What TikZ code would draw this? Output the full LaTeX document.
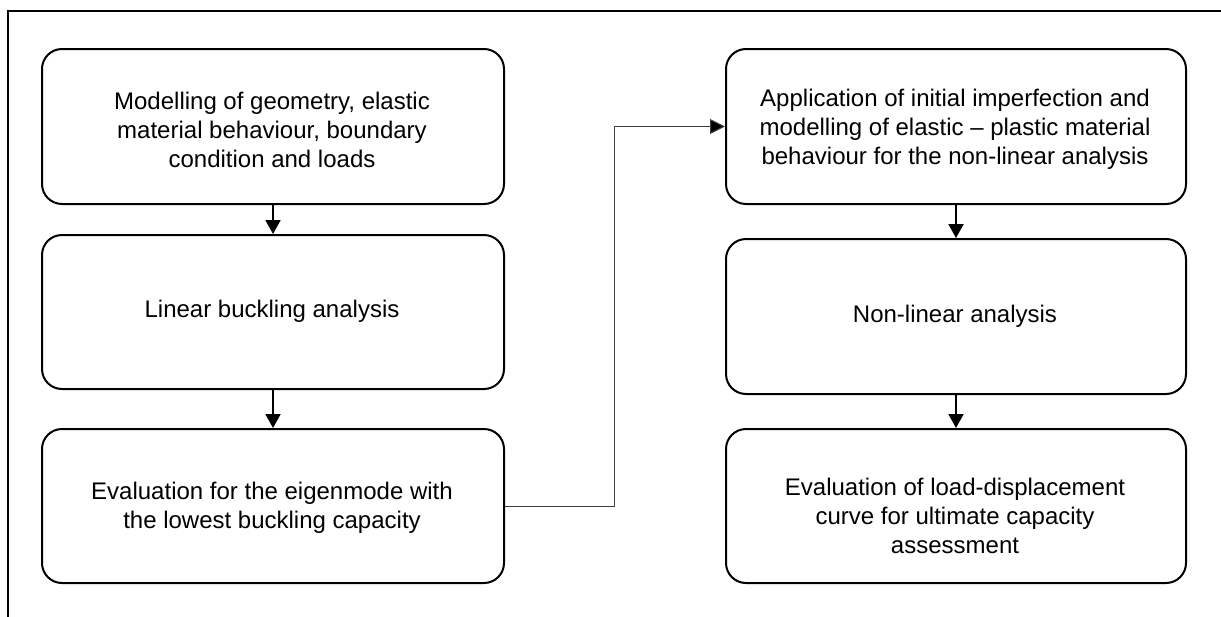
\documentclass[tikz,border=0pt]{standalone}
\usepackage{fontspec}
\setmainfont{Liberation Sans}
\usetikzlibrary{arrows.meta}
\begin{document}
\begin{tikzpicture}[x=1pt,y=-1pt,
  box/.style={draw, line width=2pt, rounded corners=20pt, inner sep=0pt, anchor=north west, minimum width=#1, minimum height=155pt},
  box/.default=462pt,
  txt/.style={align=center, inner sep=0pt, font=\fontsize{24}{29}\selectfont},
  flow/.style={line width=2pt, -{Triangle[width=15pt,length=14pt]}},
  jump/.style={line width=1pt, draw=black!75, -{Triangle[width=15pt,length=15pt,fill=black]}}]
\useasboundingbox (0,0) rectangle (1221,616);
\begin{scope}
\clip (0,0) rectangle (1221,616);
\draw[line width=1.3pt] (8,11) rectangle (1240,640);
\end{scope}
% boxes
\node[box] (L1) at (41,48) {};
\node[box, minimum height=154pt] (L2) at (41,234) {};
\node[box, minimum height=154pt] (L3) at (41,428) {};
\node[box=460pt] (R1) at (725,48) {};
\node[box=460pt] (R2) at (725,238) {};
\node[box=460pt, minimum height=154pt] (R3) at (725,428) {};
% texts
\node[txt] (t1) at (272,130) {Modelling of geometry, elastic\\material behaviour, boundary\\condition and loads};
\node[txt] (t2) at (272,311) {Linear buckling analysis};
\node[txt] (t3) at (272,508) {Evaluation for the eigenmode with\\the lowest buckling capacity};
\node[txt] (t4) at (955,129) {Application of initial imperfection and\\modelling of elastic -- plastic material\\behaviour for the non-linear analysis};
\node[txt] (t5) at (955,316) {Non-linear analysis};
\node[txt] (t6) at (955,516) {Evaluation of load-displacement\\curve for ultimate capacity\\assessment};
% connectors
\draw[flow] (L1.south) -- (L2.north);
\draw[flow] (L2.south) -- (L3.north);
\draw[flow] (R1.south) -- (R2.north);
\draw[flow] (R2.south) -- (R3.north);
\coordinate (mid) at (614,300);
\draw[jump] (L3.east) -- (L3.east -| mid) -- (R1.west -| mid) -- (R1.west);
\end{tikzpicture}
\end{document}
